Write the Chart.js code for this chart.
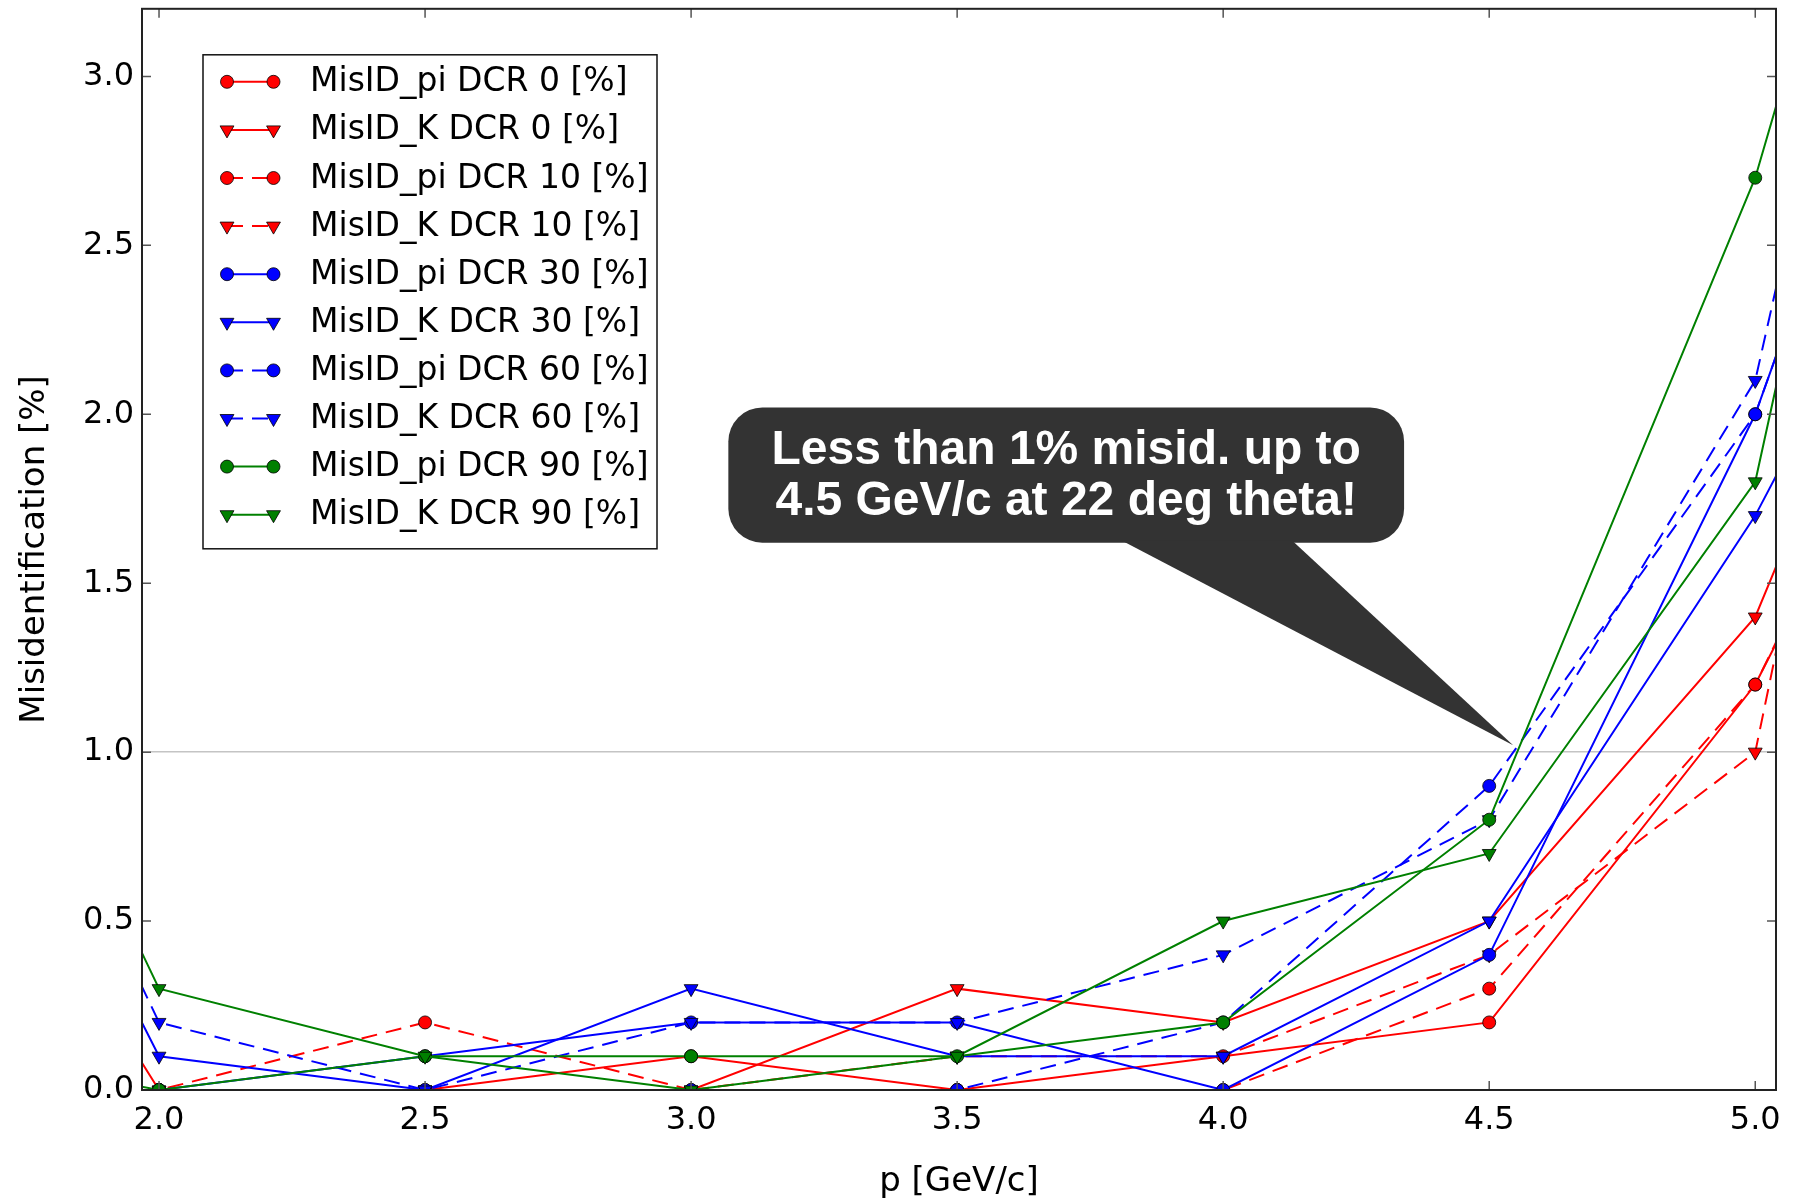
<!DOCTYPE html>
<html>
<head>
<meta charset="utf-8">
<script src="https://cdn.jsdelivr.net/npm/chart.js@4.4.0/dist/chart.umd.min.js"></script>
<style>
  html, body { margin: 0; padding: 0; background: #ffffff; }
</style>
</head>
<body>
<canvas id="misidChart" width="1794" height="1199"></canvas>
<script>
// momentum points, 1.5 and 5.5 lie just outside the visible x range
var pValues = [1.5, 2.0, 2.5, 3.0, 3.5, 4.0, 4.5, 5.0, 5.5]
var xTicks = [2.0, 2.5, 3.0, 3.5, 4.0, 4.5, 5.0]
var yTicks = [0.0, 0.5, 1.0, 1.5, 2.0, 2.5, 3.0]

var misidPiDcr0  = [0.0, 0.0, 0.0, 0.1, 0.0, 0.1, 0.2, 1.2, 2.75]
var misidKDcr0   = [1.25, 0.0, 0.0, 0.0, 0.3, 0.2, 0.5, 1.4, 3.3]
var misidPiDcr10 = [0.0, 0.0, 0.2, 0.0, 0.0, 0.0, 0.3, 1.2, 2.8]
var misidKDcr10  = [0.0, 0.0, 0.0, 0.0, 0.1, 0.1, 0.4, 1.0, 4.8]
var misidPiDcr30 = [0.0, 0.0, 0.1, 0.2, 0.2, 0.0, 0.4, 2.0, 4.2]
var misidKDcr30  = [1.65, 0.1, 0.0, 0.3, 0.1, 0.1, 0.5, 1.7, 3.2]
var misidPiDcr60 = [0.0, 0.0, 0.0, 0.0, 0.0, 0.2, 0.9, 2.0, 4.2]
var misidKDcr60  = [1.85, 0.2, 0.0, 0.2, 0.2, 0.4, 0.8, 2.1, 5.6]
var misidPiDcr90 = [0.15, 0.0, 0.1, 0.1, 0.1, 0.2, 0.8, 2.7, 5.4]
var misidKDcr90  = [1.95, 0.3, 0.1, 0.0, 0.1, 0.5, 0.7, 1.8, 5.4]

var seriesNames = [
    'MisID_pi DCR 0 [%]', 'MisID_K DCR 0 [%]',
    'MisID_pi DCR 10 [%]', 'MisID_K DCR 10 [%]',
    'MisID_pi DCR 30 [%]', 'MisID_K DCR 30 [%]',
    'MisID_pi DCR 60 [%]', 'MisID_K DCR 60 [%]',
    'MisID_pi DCR 90 [%]', 'MisID_K DCR 90 [%]'
]
var seriesValues = [
    misidPiDcr0, misidKDcr0, misidPiDcr10, misidKDcr10, misidPiDcr30,
    misidKDcr30, misidPiDcr60, misidKDcr60, misidPiDcr90, misidKDcr90
]

var calloutLines = ['Less than 1% misid. up to', '4.5 GeV/c at 22 deg theta!']

// styles
var colors = ['#ff0000', '#ff0000', '#ff0000', '#ff0000', '#0000ff', '#0000ff', '#0000ff', '#0000ff', '#008000', '#008000']
var dashed = [false, false, true, true, false, false, true, true, false, false]
var dashPattern = [16, 9]
var fontFamily = '"DejaVu Sans", sans-serif'

var datasets = seriesNames.map(function(name, i) {
    var isK = name.indexOf('_K') > 0
    return {
        label: name,
        data: pValues.map(function(p, j) { return { x: p, y: seriesValues[i][j] } }),
        borderColor: colors[i],
        backgroundColor: colors[i],
        borderWidth: 2,
        borderDash: dashed[i] ? dashPattern : [],
        tension: 0,
        pointStyle: isK ? 'triangle' : 'circle',
        pointRotation: isK ? 180 : 0,
        pointRadius: isK ? 8 : 6.5,
        pointBorderColor: '#000000',
        pointBorderWidth: 0.8,
        pointBackgroundColor: colors[i],
        clip: 0,
        order: seriesNames.length - i
    }
})

function pathRoundRect(ctx, x, y, w, h, r) {
    ctx.beginPath()
    ctx.moveTo(x + r, y)
    ctx.lineTo(x + w - r, y)
    ctx.arcTo(x + w, y, x + w, y + r, r)
    ctx.lineTo(x + w, y + h - r)
    ctx.arcTo(x + w, y + h, x + w - r, y + h, r)
    ctx.lineTo(x + r, y + h)
    ctx.arcTo(x, y + h, x, y + h - r, r)
    ctx.lineTo(x, y + r)
    ctx.arcTo(x, y, x + r, y, r)
    ctx.closePath()
}

var framePlugin = {
    id: 'framePlugin',
    afterDraw: function(chart) {
        var ctx = chart.ctx
        var a = chart.chartArea
        var xs = chart.scales.x
        var ys = chart.scales.y
        ctx.save()

        // inward ticks on all four sides
        ctx.strokeStyle = '#555555'
        ctx.lineWidth = 1.5
        var tl = 9
        xTicks.forEach(function(v) {
            var px = xs.getPixelForValue(v)
            ctx.beginPath()
            ctx.moveTo(px, a.bottom); ctx.lineTo(px, a.bottom - tl)
            ctx.moveTo(px, a.top); ctx.lineTo(px, a.top + tl)
            ctx.stroke()
        })
        yTicks.forEach(function(v) {
            var py = ys.getPixelForValue(v)
            ctx.beginPath()
            ctx.moveTo(a.left, py); ctx.lineTo(a.left + tl, py)
            ctx.moveTo(a.right, py); ctx.lineTo(a.right - tl, py)
            ctx.stroke()
        })

        // frame
        ctx.strokeStyle = '#222222'
        ctx.lineWidth = 2
        ctx.strokeRect(a.left, a.top, a.right - a.left, a.bottom - a.top)

        // legend
        var bx = a.left + 61, by = a.top + 46, bw = 454, bh = 494
        ctx.fillStyle = '#ffffff'
        ctx.fillRect(bx, by, bw, bh)
        ctx.strokeStyle = '#111111'
        ctx.lineWidth = 1.5
        ctx.strokeRect(bx, by, bw, bh)
        ctx.font = '33px ' + fontFamily
        ctx.textBaseline = 'middle'
        ctx.textAlign = 'left'
        chart.data.datasets.forEach(function(ds, i) {
            var ry = by + 27 + i * 48.1
            var m1 = bx + 24, m2 = bx + 70.5
            ctx.save()
            ctx.strokeStyle = ds.borderColor
            ctx.lineWidth = 2
            ctx.setLineDash(ds.borderDash)
            ctx.beginPath()
            ctx.moveTo(m1, ry); ctx.lineTo(m2, ry)
            ctx.stroke()
            ctx.setLineDash([])
            ctx.fillStyle = ds.pointBackgroundColor
            ctx.strokeStyle = ds.pointBorderColor
            ctx.lineWidth = ds.pointBorderWidth
            var opts = { pointStyle: ds.pointStyle, radius: ds.pointRadius, rotation: ds.pointRotation, borderWidth: ds.pointBorderWidth }
            Chart.helpers.drawPoint(ctx, opts, m1, ry)
            Chart.helpers.drawPoint(ctx, opts, m2, ry)
            ctx.restore()
            ctx.fillStyle = '#000000'
            ctx.fillText(ds.label, bx + 107, ry + 1)
        })

        // callout box pointing at 4.55 GeV/c, 1.0 %
        var cx0 = xs.getPixelForValue(3.07), cx1 = xs.getPixelForValue(4.34)
        var cy0 = ys.getPixelForValue(2.02), cy1 = ys.getPixelForValue(1.62)
        ctx.fillStyle = '#333333'
        pathRoundRect(ctx, cx0, cy0, cx1 - cx0, cy1 - cy0, 34)
        ctx.fill()
        ctx.beginPath()
        ctx.moveTo(xs.getPixelForValue(3.81), cy1 - 2)
        ctx.lineTo(xs.getPixelForValue(4.545), ys.getPixelForValue(1.02))
        ctx.lineTo(xs.getPixelForValue(4.13), cy1 - 2)
        ctx.closePath()
        ctx.fill()
        ctx.fillStyle = '#ffffff'
        ctx.font = 'bold 48px "Liberation Sans", Arial, sans-serif'
        ctx.textAlign = 'center'
        var mid = (cx0 + cx1) / 2, cyMid = (cy0 + cy1) / 2
        ctx.fillText(calloutLines[0], mid, cyMid - 24)
        ctx.fillText(calloutLines[1], mid, cyMid + 27)
        ctx.restore()
    }
}

var canvasElement = document.getElementById('misidChart')
var configure = {
    type: 'line',
    data: { datasets: datasets },
    options: {
        responsive: false,
        animation: false,
        layout: { padding: { top: 8, right: 18, left: 0, bottom: 0 } },
        plugins: {
            legend: { display: false },
            tooltip: { enabled: false }
        },
        scales: {
            x: {
                type: 'linear',
                min: 1.968,
                max: 5.039,
                afterBuildTicks: function(s) { s.ticks = xTicks.map(function(v) { return { value: v } }) },
                afterFit: function(s) { s.height = 109; s.paddingLeft = 0; s.paddingRight = 0 },
                grid: { display: false, drawTicks: false },
                border: { display: false },
                ticks: {
                    color: '#000000',
                    padding: 11,
                    maxRotation: 0,
                    autoSkip: false,
                    font: { family: fontFamily, size: 32 },
                    callback: function(v) { return Number(v).toFixed(1) }
                },
                title: {
                    display: true,
                    text: 'p [GeV/c]',
                    color: '#000000',
                    font: { family: fontFamily, size: 34 },
                    padding: { top: 0, bottom: -4 }
                }
            },
            y: {
                type: 'linear',
                min: 0,
                max: 3.2,
                afterBuildTicks: function(s) { s.ticks = yTicks.map(function(v) { return { value: v } }) },
                afterFit: function(s) { s.width = 142; s.paddingTop = 0; s.paddingBottom = 0 },
                grid: {
                    drawTicks: false,
                    lineWidth: 1.5,
                    color: function(c) { return c.tick && c.tick.value === 1 ? '#c4c4c4' : 'rgba(0,0,0,0)' }
                },
                border: { display: false },
                ticks: {
                    color: '#000000',
                    padding: 8,
                    font: { family: fontFamily, size: 32 },
                    callback: function(v) { return Number(v).toFixed(1) }
                },
                title: {
                    display: true,
                    text: 'Misidentification [%]',
                    color: '#000000',
                    font: { family: fontFamily, size: 34 },
                    padding: { top: 15, bottom: 4 }
                }
            }
        }
    },
    plugins: [framePlugin]
}

var reportChart = new Chart(canvasElement, configure)
</script>
</body>
</html>
